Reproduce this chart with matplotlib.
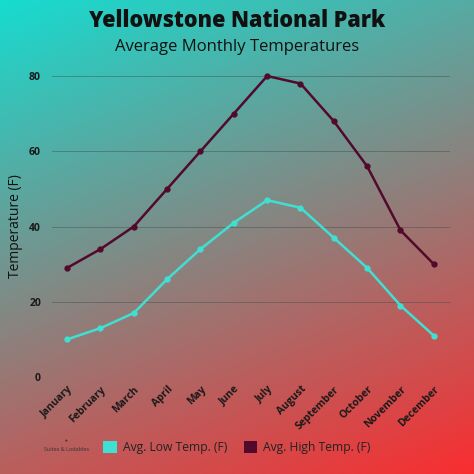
import numpy as np
import matplotlib.pyplot as plt
from matplotlib.patches import Patch

months = ['January', 'February', 'March', 'April', 'May', 'June', 'July',
          'August', 'September', 'October', 'November', 'December']
high_temps = [29, 34, 40, 50, 60, 70, 80, 78, 68, 56, 39, 30]
low_temps = [10, 13, 17, 26, 34, 41, 47, 45, 37, 29, 19, 11]
y_ticks = [0, 20, 40, 60, 80]

low_color = '#3fe0d3'
high_color = '#520a2c'

plt.rcParams['font.family'] = ['Open Sans', 'DejaVu Sans']

fig = plt.figure(figsize=(4.74, 4.74), dpi=100)

# mostly vertical gradient background (teal top-left -> red bottom-right)
bg = fig.add_axes([0, 0, 1, 1])
n = 300
xx, yy = np.meshgrid(np.linspace(0, 1, n), np.linspace(0, 1, n))
t = np.clip(0.28 * xx + 0.72 * yy, 0, 1)[..., None]
c0 = np.array([22, 220, 208]) / 255
c1 = np.array([250, 45, 48]) / 255
img = c0 * (1 - t) + c1 * t
bg.imshow(img, extent=[0, 1, 0, 1], origin='upper', aspect='auto')
bg.axis('off')

ax = fig.add_axes([0.110, 0.2046, 0.839, 0.635])
ax.patch.set_alpha(0)
x = np.arange(len(months))
ax.plot(x, high_temps, color=high_color, lw=1.8, marker='o', ms=3.5, clip_on=False, zorder=3)
ax.plot(x, low_temps, color=low_color, lw=1.8, marker='o', ms=3.5, clip_on=False, zorder=3)

ax.set_xlim(-0.45, 11.48)
ax.set_ylim(0, 80)
ax.set_yticks(y_ticks)
ax.set_yticklabels([str(v) for v in y_ticks], fontsize=7.5, fontweight='bold', color='#1a1a1a')
ax.set_xticks(x)
ax.set_xticklabels(months, rotation=45, ha='right', rotation_mode='anchor',
                   fontsize=7.5, fontweight='bold', color='#1a1a1a')
ax.tick_params(length=0, pad=8)
ax.tick_params(axis='x', pad=5)
ax.grid(axis='y', color='#3a4a4a', lw=0.6, alpha=0.5)
ax.set_axisbelow(True)
for s in ax.spines.values():
    s.set_visible(False)
ax.set_ylabel('Temperature (F)', fontsize=10, color='#111111', labelpad=4)

fig.text(0.5, 0.955, 'Yellowstone National Park', ha='center', va='center',
         fontsize=15.6, fontweight='heavy', color='#111111')
fig.text(0.5, 0.901, 'Average Monthly Temperatures', ha='center', va='center',
         fontsize=12, color='#111111')

fig.text(0.14, 0.052, 'Suites & Lodables', ha='center', va='center', fontsize=4, color='#333333')
fig.text(0.14, 0.07, '\u25b2', ha='center', va='center', fontsize=2.5, color='#333333')

handles = [Patch(facecolor=low_color, label='Avg. Low Temp. (F)'),
           Patch(facecolor=high_color, label='Avg. High Temp. (F)')]
fig.legend(handles=handles, loc='center', bbox_to_anchor=(0.5, 0.056), ncol=2,
           frameon=False, fontsize=8.7, handlelength=1.1, handleheight=1.1,
           columnspacing=1.4, handletextpad=0.5, labelcolor='#222222')

fig.savefig('out.png', dpi=100)
